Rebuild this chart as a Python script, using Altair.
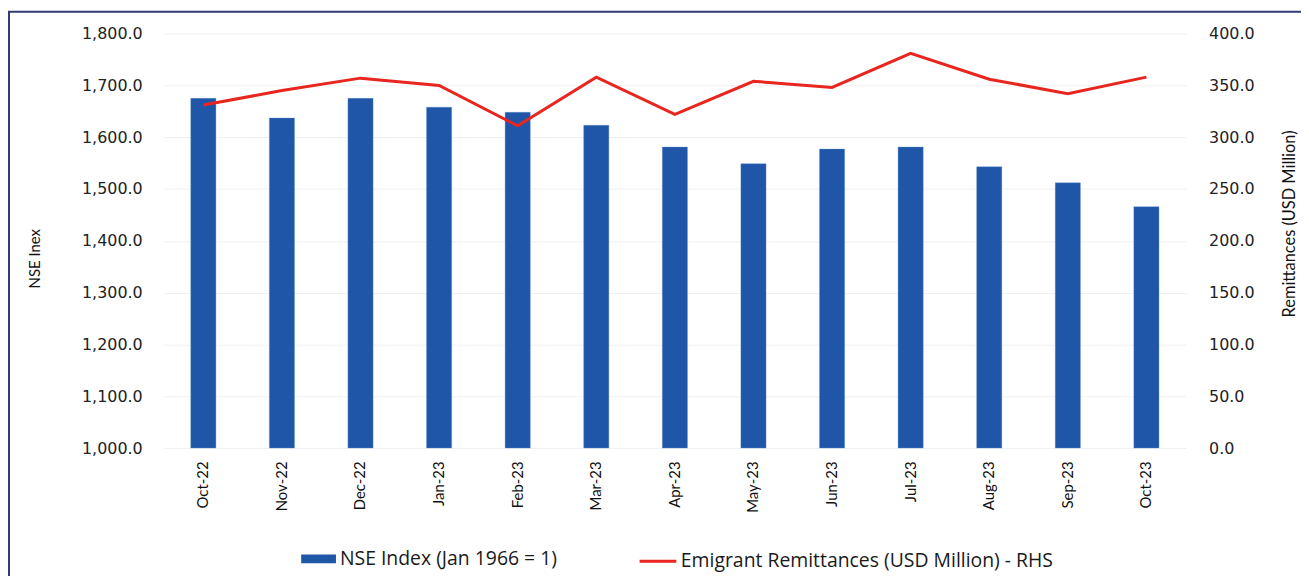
import altair as alt
import pandas as pd

months = ["Oct-22", "Nov-22", "Dec-22", "Jan-23", "Feb-23", "Mar-23", "Apr-23",
          "May-23", "Jun-23", "Jul-23", "Aug-23", "Sep-23", "Oct-23"]
nse_index = [1675, 1637, 1675, 1658, 1648, 1623, 1581, 1549, 1577, 1581, 1543, 1512, 1466]
remittances = [331, 345, 357, 350, 311, 358, 322, 354, 348, 381, 356, 342, 358]

bar_name = "NSE Index (Jan 1966 = 1)"
line_name = "Emigrant Remittances (USD Million) - RHS"

df = pd.DataFrame({
    "month": months,
    "nse": nse_index,
    "rem": remittances,
    "bar_s": [bar_name] * len(months),
    "line_s": [line_name] * len(months),
})

W, H = 1028, 417
BLUE = "#1f56a8"
RED = "#e8261f"

x = alt.X("month:N", sort=months, title=None,
          scale=alt.Scale(paddingInner=0.68, paddingOuter=0.34),
          axis=alt.Axis(labelAngle=270, labelPadding=13, ticks=False, domain=False,
                        labelFont="Lato", labelFontSize=15, labelColor="#111"))

bars = alt.Chart(df).mark_bar(color=BLUE, stroke="#5b8fd0", strokeWidth=0.6, strokeOpacity=0.6).encode(
    x=x,
    y=alt.Y("nse:Q", title="NSE Inex",
            scale=alt.Scale(domain=[1000, 1800], nice=False, zero=False),
            axis=alt.Axis(values=[1000, 1100, 1200, 1300, 1400, 1500, 1600, 1700, 1800],
                          format=",.1f", ticks=False, domain=False, labelPadding=22,
                          labelFont="DejaVu Sans", labelFontSize=16, labelColor="#222",
                          grid=True, gridColor="#f0f0f0",
                          titleFont="Lato", titleFontSize=15, titleFontWeight="normal",
                          titleColor="#111", titleAngle=270, titleX=-130, titleY=226,
                          titleAlign="center", titleBaseline="middle")),
    y2=alt.datum(1000),
    fill=alt.Fill("bar_s:N", scale=alt.Scale(domain=[bar_name], range=[BLUE]),
                  legend=alt.Legend(title=None, orient="none", legendX=138, legendY=511,
                                    symbolType="M-1,-0.25H1V0.25H-1Z", symbolSize=1225,
                                    symbolStrokeWidth=0, labelFont="Open Sans", labelFontSize=19.5,
                                    labelColor="#1a1a1a", labelOffset=4, labelLimit=600)),
)

line = alt.Chart(df).mark_line(color=RED, strokeWidth=3).encode(
    x=x,
    y=alt.Y("rem:Q", title="Remittances (USD Million)",
            scale=alt.Scale(domain=[0, 400], nice=False),
            axis=alt.Axis(orient="right", values=[0, 50, 100, 150, 200, 250, 300, 350, 400],
                          format=",.1f", ticks=False, domain=False, labelPadding=23, grid=False,
                          labelFont="DejaVu Sans", labelFontSize=16, labelColor="#222",
                          titleFont="Lato", titleFontSize=16.5, titleFontWeight="normal",
                          titleColor="#111", titleAngle=270, titleX=104, titleY=191,
                          titleAlign="center", titleBaseline="middle")),
    stroke=alt.Stroke("line_s:N", scale=alt.Scale(domain=[line_name], range=[RED]),
                      legend=alt.Legend(title=None, orient="none", legendX=477, legendY=511,
                                        symbolType="stroke", symbolSize=1369,
                                        symbolStrokeWidth=3, labelFont="Open Sans", labelFontSize=19.5,
                                        labelColor="#1a1a1a", labelOffset=3, labelLimit=600)),
)

frame = alt.Chart(alt.Data(values=[{}])).mark_rect(
    fill=None, stroke="#303c78", strokeWidth=2
).encode(
    x=alt.value(-156), x2=alt.value(1170),
    y=alt.value(-22), y2=alt.value(600),
)

chart = alt.layer(bars, line, frame).resolve_scale(
    y="independent", fill="independent", stroke="independent"
).properties(
    width=W, height=H,
    autosize=alt.AutoSizeParams(type="none"),
    padding={"left": 157, "top": 24, "right": 116, "bottom": 127},
    background="white",
).configure_view(stroke=None)

chart.save("out.html", embed_options={"renderer": "svg", "actions": False})
